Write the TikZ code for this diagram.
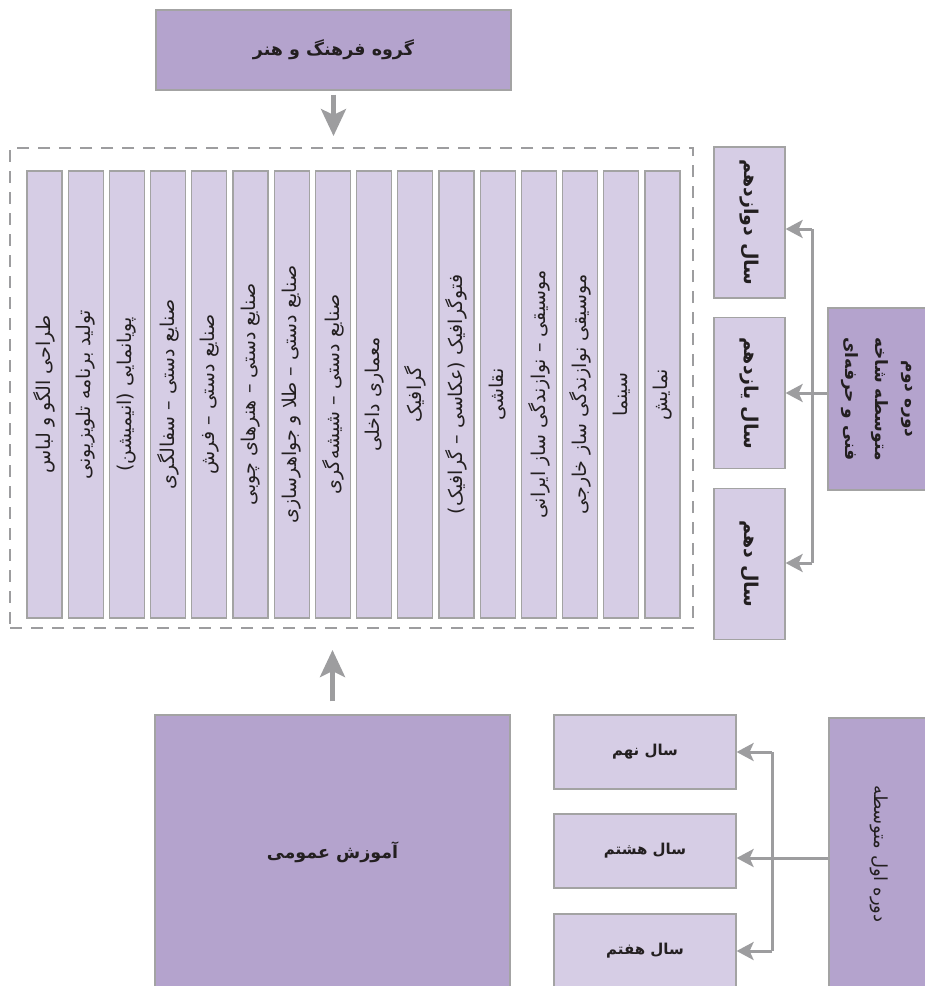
\documentclass[tikz,border=0pt]{standalone}
\usepackage{fontspec}
\newfontfamily\pfont[Script=Arabic]{DejaVu Sans}
\TeXXeTstate=1
\usetikzlibrary{arrows.meta}
\definecolor{darkpurple}{HTML}{B4A3CD}
\definecolor{lightpurple}{HTML}{D6CDE5}
\definecolor{bordergray}{HTML}{A3A3A3}
\definecolor{arrowgray}{HTML}{9D9D9F}
\definecolor{txt}{HTML}{231F20}
\tikzset{
  darkbox/.style={draw=bordergray, line width=1.2pt, fill=darkpurple, text=txt, inner sep=0pt},
  lightbox/.style={draw=bordergray, line width=1.2pt, fill=lightpurple, text=txt, inner sep=0pt},
  conn/.style={draw=arrowgray, line width=3pt},
  connarrow/.style={conn, -{Stealth[length=17pt,width=18pt,inset=4pt]}},
  bigarrow/.style={draw=arrowgray, line width=4.5pt, -{Stealth[length=27pt,width=25pt,inset=6pt]}},
  framebox/.style={draw=arrowgray, line width=2pt, dash pattern=on 12pt off 9pt, inner sep=0pt},
}
\begin{document}
\begin{tikzpicture}[x=1pt,y=-1pt]
\useasboundingbox (0,0) rectangle (925,986);
\clip (0,0) rectangle (925,986);
% top group box
\node[darkbox, minimum width=355pt, minimum height=80pt, font=\pfont\bfseries\fontsize{17.5}{20}\selectfont] (group) at (333.5,50)
  {\beginR گروه فرهنگ و هنر\endR};
% dashed frame
\node[framebox, minimum width=683pt, minimum height=480pt] (frame) at (351.5,388) {};
% columns
\foreach \t [count=\i] in {طراحی الگو و لباس, تولید برنامه تلویزیونی, پویانمایی (انیمیشن), صنایع دستی – سفالگری, صنایع دستی – فرش, صنایع دستی – هنرهای چوبی, صنایع دستی – طلا و جواهرسازی, صنایع دستی – شیشه‌گری, معماری داخلی, گرافیک, فتوگرافیک (عکاسی – گرافیک), نقاشی, موسیقی – نوازندگی ساز ایرانی, موسیقی نوازندگی ساز خارجی, سینما, نمایش}{
  \node[lightbox, rotate=90, minimum width=447pt, minimum height=35pt, font=\pfont\fontsize{19}{22}\selectfont] (c\i) at ({44.5+41.2*(\i-1)},394.5)
    {\beginR \t\endR};
}
% right side upper
\tikzset{sidetext/.style={font=\pfont\bfseries\fontsize{19}{22}\selectfont}}
\node[lightbox, sidetext, rotate=-90, minimum width=151pt, minimum height=71pt] (s12) at (749.5,222.5)
  {\beginR سال دوازدهم\endR};
\node[lightbox, sidetext, rotate=-90, minimum width=151pt, minimum height=71pt] (s11) at (749.5,393)
  {\beginR سال یازدهم\endR};
\node[lightbox, sidetext, rotate=-90, minimum width=151pt, minimum height=71pt] (s10) at (749.5,564)
  {\beginR سال دهم\endR};
\node[darkbox, rotate=-90, minimum width=182pt, minimum height=98pt, align=center, font=\pfont\bfseries\fontsize{17}{30}\selectfont] (d2) at (877,399)
  {\beginR دوره دوم\endR\\\beginR متوسطه شاخه\endR\\\beginR فنی و حرفه‌ای\endR};
% bottom
\node[darkbox, minimum width=355pt, minimum height=275pt, font=\pfont\bfseries\fontsize{17.5}{20}\selectfont] (gen) at (332.5,852.5)
  {\beginR آموزش عمومی\endR};
\tikzset{lowtext/.style={font=\pfont\bfseries\fontsize{15}{18}\selectfont}}
\node[lightbox, lowtext, minimum width=182pt, minimum height=74pt] (s9) at (645,752)
  {\beginR سال نهم\endR};
\node[lightbox, lowtext, minimum width=182pt, minimum height=74pt] (s8) at (645,851)
  {\beginR سال هشتم\endR};
\node[lightbox, lowtext, minimum width=182pt, minimum height=74pt] (s7) at (645,951)
  {\beginR سال هفتم\endR};
\node[darkbox, rotate=-90, minimum width=272pt, minimum height=101pt, font=\pfont\fontsize{18}{20}\selectfont] (d1) at (879.5,854)
  {\beginR دوره اول متوسطه\endR};
% main arrows
\draw[bigarrow, shorten <=4pt, shorten >=11pt] (group.south) -- (frame.north -| group.south);
\draw[bigarrow, shorten <=13pt, shorten >=21pt] (gen.north) -- (gen.north |- frame.south);
% upper connectors
\coordinate (u12) at (812,229);
\coordinate (u11) at (812,393);
\coordinate (u10) at (812,563);
\draw[conn] (u12) -- (u10);
\draw[conn] (u11 -| d2.south) -- (u11);
\draw[connarrow] (u12) -- (u12 -| s12.north);
\draw[connarrow] (u11) -- (u11 -| s11.north);
\draw[connarrow] (u10) -- (u10 -| s10.north);
% lower connectors
\coordinate (b9) at (772,752);
\coordinate (b8) at (772,858);
\coordinate (b7) at (772,951);
\draw[conn] (b9) -- (b7);
\draw[conn] (b8 -| d1.south) -- (b8);
\draw[connarrow] (b9) -- (b9 -| s9.east);
\draw[connarrow] (b8) -- (b8 -| s8.east);
\draw[connarrow] (b7) -- (b7 -| s7.east);
\end{tikzpicture}
\end{document}
